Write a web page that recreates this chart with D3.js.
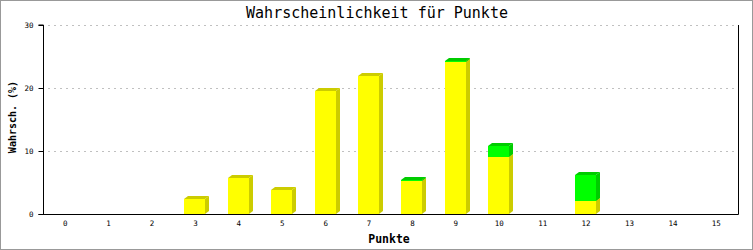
<!DOCTYPE html>
<html>
<head>
<meta charset="utf-8">
<script src="https://cdn.jsdelivr.net/npm/d3@7"></script>
<style>
  body { margin: 0; background: #fff; }
  svg { display: block; }
</style>
</head>
<body>
<script>
const w = 753;
const h = 250;

// data
const punkte = ['0','1','2','3','4','5','6','7','8','9','10','11','12','13','14','15'];
const gelb = [0, 0, 0, 2.4, 5.7, 3.8, 19.5, 21.9, 5.2, 24.1, 9.05, 0, 2.05, 0, 0, 0];
const gruen = [0, 0, 0, 0, 0, 0, 0, 0, 0.2, 0.2, 1.75, 0, 4.15, 0, 0, 0];
const yTicks = [0, 10, 20, 30];

const series = [
    {name: 'gelb', values: gelb, front: '#ffff00', dark: '#cccc00'},
    {name: 'gruen', values: gruen, front: '#00ff00', dark: '#00cc00'}
];

const mono = "'DejaVu Sans Mono', 'Liberation Mono', monospace";
const dx = 4, dy = 3;

const x = d3.scaleBand().domain(punkte).range([43.5, 738]).padding(0);
const y = d3.scaleLinear().domain([0, 30]).range([214, 25]);

const svg = d3.select('body').append('svg').attr('width', w).attr('height', h);

// outer frame
svg.append('rect')
    .attr('x', 0.5).attr('y', 0.5).attr('width', w - 1).attr('height', h - 1)
    .attr('fill', '#fff').attr('stroke', '#999');

// grid
svg.append('g').selectAll('line')
    .data(yTicks.filter(d => d > 0))
    .enter().append('line')
    .attr('x1', 48).attr('x2', 737)
    .attr('y1', d => Math.round(y(d)) + 0.5).attr('y2', d => Math.round(y(d)) + 0.5)
    .attr('stroke', '#c0c0c0').attr('stroke-dasharray', '2,4');

// bars, stacked, as little boxes
const bw = 21;
const stacks = d3.stack().keys(series.map(s => s.name))(
    punkte.map((p, i) => ({p: p, gelb: gelb[i], gruen: gruen[i]}))
);

stacks.forEach((layer, li) => {
    const s = series[li];
    const g = svg.append('g');
    layer.forEach((d, i) => {
        if (d[1] - d[0] <= 0) return;
        const x0 = Math.floor(x(punkte[i]) + x.bandwidth() / 2 - bw / 2);
        const x1 = x0 + bw;
        const yb = Math.round(y(d[0]));
        const yt = Math.round(y(d[1]));
        g.append('rect')
            .attr('x', x0).attr('y', yt).attr('width', bw).attr('height', yb - yt)
            .attr('fill', s.front);
        g.append('polygon')
            .attr('points', [[x1, yt], [x1 + dx, yt - dy], [x1 + dx, yb - dy], [x1, yb]].join(' '))
            .attr('fill', s.dark);
        g.append('polygon')
            .attr('points', [[x0, yt], [x0 + dx, yt - dy], [x1 + dx, yt - dy], [x1, yt]].join(' '))
            .attr('fill', s.dark);
    });
});

// axes
const yAxis = d3.axisLeft(y).tickValues(yTicks).tickSize(5).tickPadding(5);
const yg = svg.append('g').attr('transform', 'translate(43.5,0)').call(yAxis);
yg.select('.domain').attr('d', 'M-5,' + y(30) + 'H0V' + (y(0) + 0.5));
yg.selectAll('text').attr('font-family', mono).attr('font-size', '7.5px').attr('fill', '#000');
yg.selectAll('line').attr('stroke', '#000');

const xAxis = d3.axisBottom(x).tickSize(0).tickPadding(6);
const xg = svg.append('g').attr('transform', 'translate(0,214.5)').call(xAxis);
xg.select('.domain').attr('d', 'M38.5,0H738.5');
xg.selectAll('text').attr('font-family', mono).attr('font-size', '7.5px').attr('fill', '#000');

// right frame line
svg.append('line')
    .attr('x1', 738.5).attr('x2', 738.5).attr('y1', y(30)).attr('y2', 214.5)
    .attr('stroke', '#000');

// titles
svg.append('text')
    .attr('x', 377).attr('y', 18)
    .attr('text-anchor', 'middle')
    .attr('font-family', mono).attr('font-size', '15px')
    .text('Wahrscheinlichkeit für Punkte');

svg.append('text')
    .attr('x', 389).attr('y', 243)
    .attr('text-anchor', 'middle')
    .attr('font-family', mono).attr('font-size', '11.5px').attr('font-weight', 'bold')
    .text('Punkte');

svg.append('text')
    .attr('transform', 'translate(16,117) rotate(-90)')
    .attr('text-anchor', 'middle')
    .attr('font-family', mono).attr('font-size', '10px').attr('font-weight', 'bold')
    .text('Wahrsch. (%)');
</script>
</body>
</html>
